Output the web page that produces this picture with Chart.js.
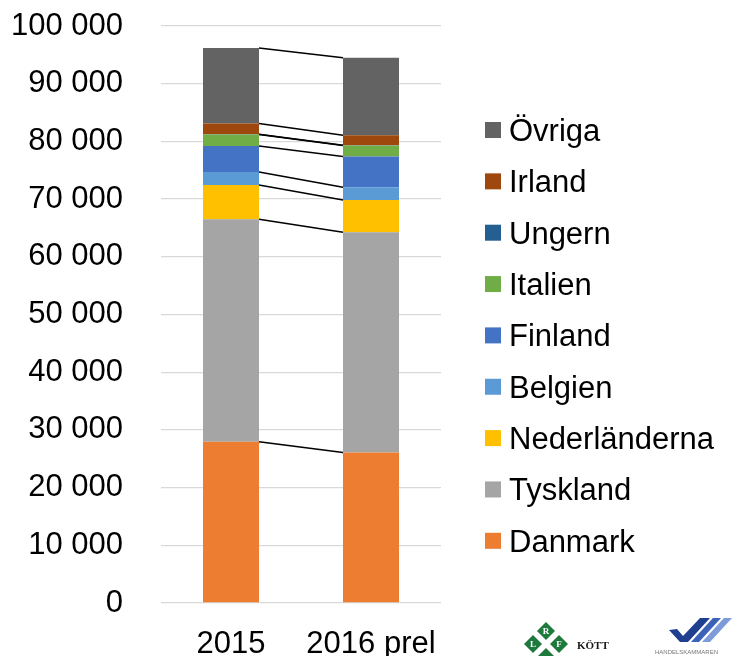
<!DOCTYPE html>
<html lang="sv">
<head>
  <meta charset="UTF-8" />
  <title>Import per land</title>
  <script src="https://cdn.jsdelivr.net/npm/chart.js"></script>
  <style>
    body { margin: 0; background: #ffffff; }
    .wrap { width: 749px; height: 656px; position: relative; }
  </style>
</head>
<body>
  <div class="wrap">
    <canvas id="chart" width="749" height="656"></canvas>
  </div>

  <script>
    // Data (ton)
    const categories = ["2015", "2016 prel"];
    const danmark = [27950, 26100];
    const tyskland = [38550, 38150];
    const nederlanderna = [5950, 5600];
    const belgien = [2250, 2200];
    const finland = [4500, 5350];
    const italien = [1990, 1890];
    const ungern = [60, 50];
    const irland = [1850, 1740];
    const ovriga = [13100, 13420];

    const yTicks = [0, 10000, 20000, 30000, 40000, 50000, 60000, 70000, 80000, 90000, 100000];

    const seriesNames = ["Danmark", "Tyskland", "Nederländerna", "Belgien", "Finland", "Italien", "Ungern", "Irland", "Övriga"];
    const seriesData = [danmark, tyskland, nederlanderna, belgien, finland, italien, ungern, irland, ovriga];
    const seriesColors = ["#ED7D31", "#A5A5A5", "#FFC000", "#5B9BD5", "#4472C4", "#70AD47", "#255E91", "#9E480E", "#636363"];

    const FONT = "'Liberation Sans', Arial, sans-serif";

    function fmt(v) {
      return String(v).replace(/\B(?=(\d{3})+(?!\d))/g, " ");
    }

    // Excel style series lines between the stacked segments
    const seriesLines = {
      id: "seriesLines",
      afterDatasetsDraw(chart) {
        const ctx = chart.ctx;
        ctx.save();
        ctx.strokeStyle = "#000000";
        ctx.lineWidth = 1.5;
        chart.data.datasets.forEach((ds, i) => {
          const bars = chart.getDatasetMeta(i).data;
          for (let k = 0; k < bars.length - 1; k++) {
            const a = bars[k], b = bars[k + 1];
            ctx.beginPath();
            ctx.moveTo(a.x + a.width / 2, a.y);
            ctx.lineTo(b.x - b.width / 2, b.y);
            ctx.stroke();
          }
        });
        ctx.restore();
      }
    };

    // Legend on the right, top series first
    const sideLegend = {
      id: "sideLegend",
      afterDraw(chart) {
        const ctx = chart.ctx;
        ctx.save();
        ctx.font = "31px " + FONT;
        ctx.textBaseline = "alphabetic";
        ctx.textAlign = "left";
        const n = seriesNames.length;
        for (let j = 0; j < n; j++) {
          const i = n - 1 - j;
          const cy = 130 + j * 51.35;
          ctx.fillStyle = seriesColors[i];
          ctx.fillRect(485, cy - 8, 16, 16);
          ctx.fillStyle = "#000000";
          ctx.fillText(seriesNames[i], 509, cy + 11);
        }
        ctx.restore();
      }
    };

    // small logos in the corner
    const logos = {
      id: "logos",
      afterDraw(chart) {
        const ctx = chart.ctx;
        ctx.save();
        const diamond = (cx, cy, r, letter) => {
          ctx.fillStyle = "#1E7A3C";
          ctx.beginPath();
          ctx.moveTo(cx, cy - r);
          ctx.lineTo(cx + r, cy);
          ctx.lineTo(cx, cy + r);
          ctx.lineTo(cx - r, cy);
          ctx.closePath();
          ctx.fill();
          if (letter) {
            ctx.fillStyle = "#ffffff";
            ctx.font = "bold 9px 'Liberation Serif', serif";
            ctx.textAlign = "center";
            ctx.textBaseline = "middle";
            ctx.fillText(letter, cx, cy + 1);
          }
        };
        diamond(546, 631, 9, "R");
        diamond(533, 644, 9, "L");
        diamond(559, 644, 9, "F");
        diamond(546, 657, 9, "");
        ctx.fillStyle = "#1a1a1a";
        ctx.font = "bold 11px 'Liberation Serif', serif";
        ctx.textAlign = "left";
        ctx.textBaseline = "alphabetic";
        ctx.fillText("KÖTT", 577, 649);

        const poly = (pts, col) => {
          ctx.fillStyle = col;
          ctx.beginPath();
          ctx.moveTo(pts[0][0], pts[0][1]);
          for (let p = 1; p < pts.length; p++) ctx.lineTo(pts[p][0], pts[p][1]);
          ctx.closePath();
          ctx.fill();
        };
        poly([[669, 630], [677, 629], [683, 636], [700, 618], [710, 618], [688, 642], [680, 642]], "#1F3F8F");
        poly([[713, 618], [721, 618], [699, 642], [691, 642]], "#3A62B8");
        poly([[724, 618], [732, 618], [710, 642], [702, 642]], "#7D9BD8");
        ctx.fillStyle = "#777";
        ctx.font = "6px " + FONT;
        ctx.fillText("HANDELSKAMMAREN", 655, 654);
        ctx.restore();
      }
    };

    new Chart(document.getElementById("chart"), {
      type: "bar",
      data: {
        labels: categories,
        datasets: seriesNames.map((name, i) => ({
          label: name,
          data: seriesData[i],
          backgroundColor: seriesColors[i],
          borderWidth: 0,
          categoryPercentage: 1,
          barPercentage: 0.4
        }))
      },
      options: {
        responsive: false,
        animation: false,
        layout: { padding: { left: 10, right: 308, top: 26, bottom: 0 } },
        plugins: {
          legend: { display: false },
          tooltip: { enabled: false }
        },
        scales: {
          x: {
            stacked: true,
            grid: { display: false, drawTicks: false },
            border: { display: false },
            ticks: { color: "#000000", font: { family: FONT, size: 31, lineHeight: 1 }, padding: 26 },
            afterFit(scale) { scale.height = 53; }
          },
          y: {
            stacked: true,
            min: 0,
            max: 100000,
            afterBuildTicks(scale) { scale.ticks = yTicks.map(v => ({ value: v })); },
            grid: { color: "#D9D9D9", lineWidth: 1.3, drawTicks: false },
            border: { display: false },
            ticks: {
              color: "#000000",
              font: { family: FONT, size: 31 },
              padding: 38,
              callback: v => fmt(v)
            },
            afterFit(scale) {
              scale.width = 151;
              scale.paddingTop = 0;
              scale.paddingBottom = 0;
            }
          }
        }
      },
      plugins: [seriesLines, sideLegend, logos]
    });
  </script>
</body>
</html>
